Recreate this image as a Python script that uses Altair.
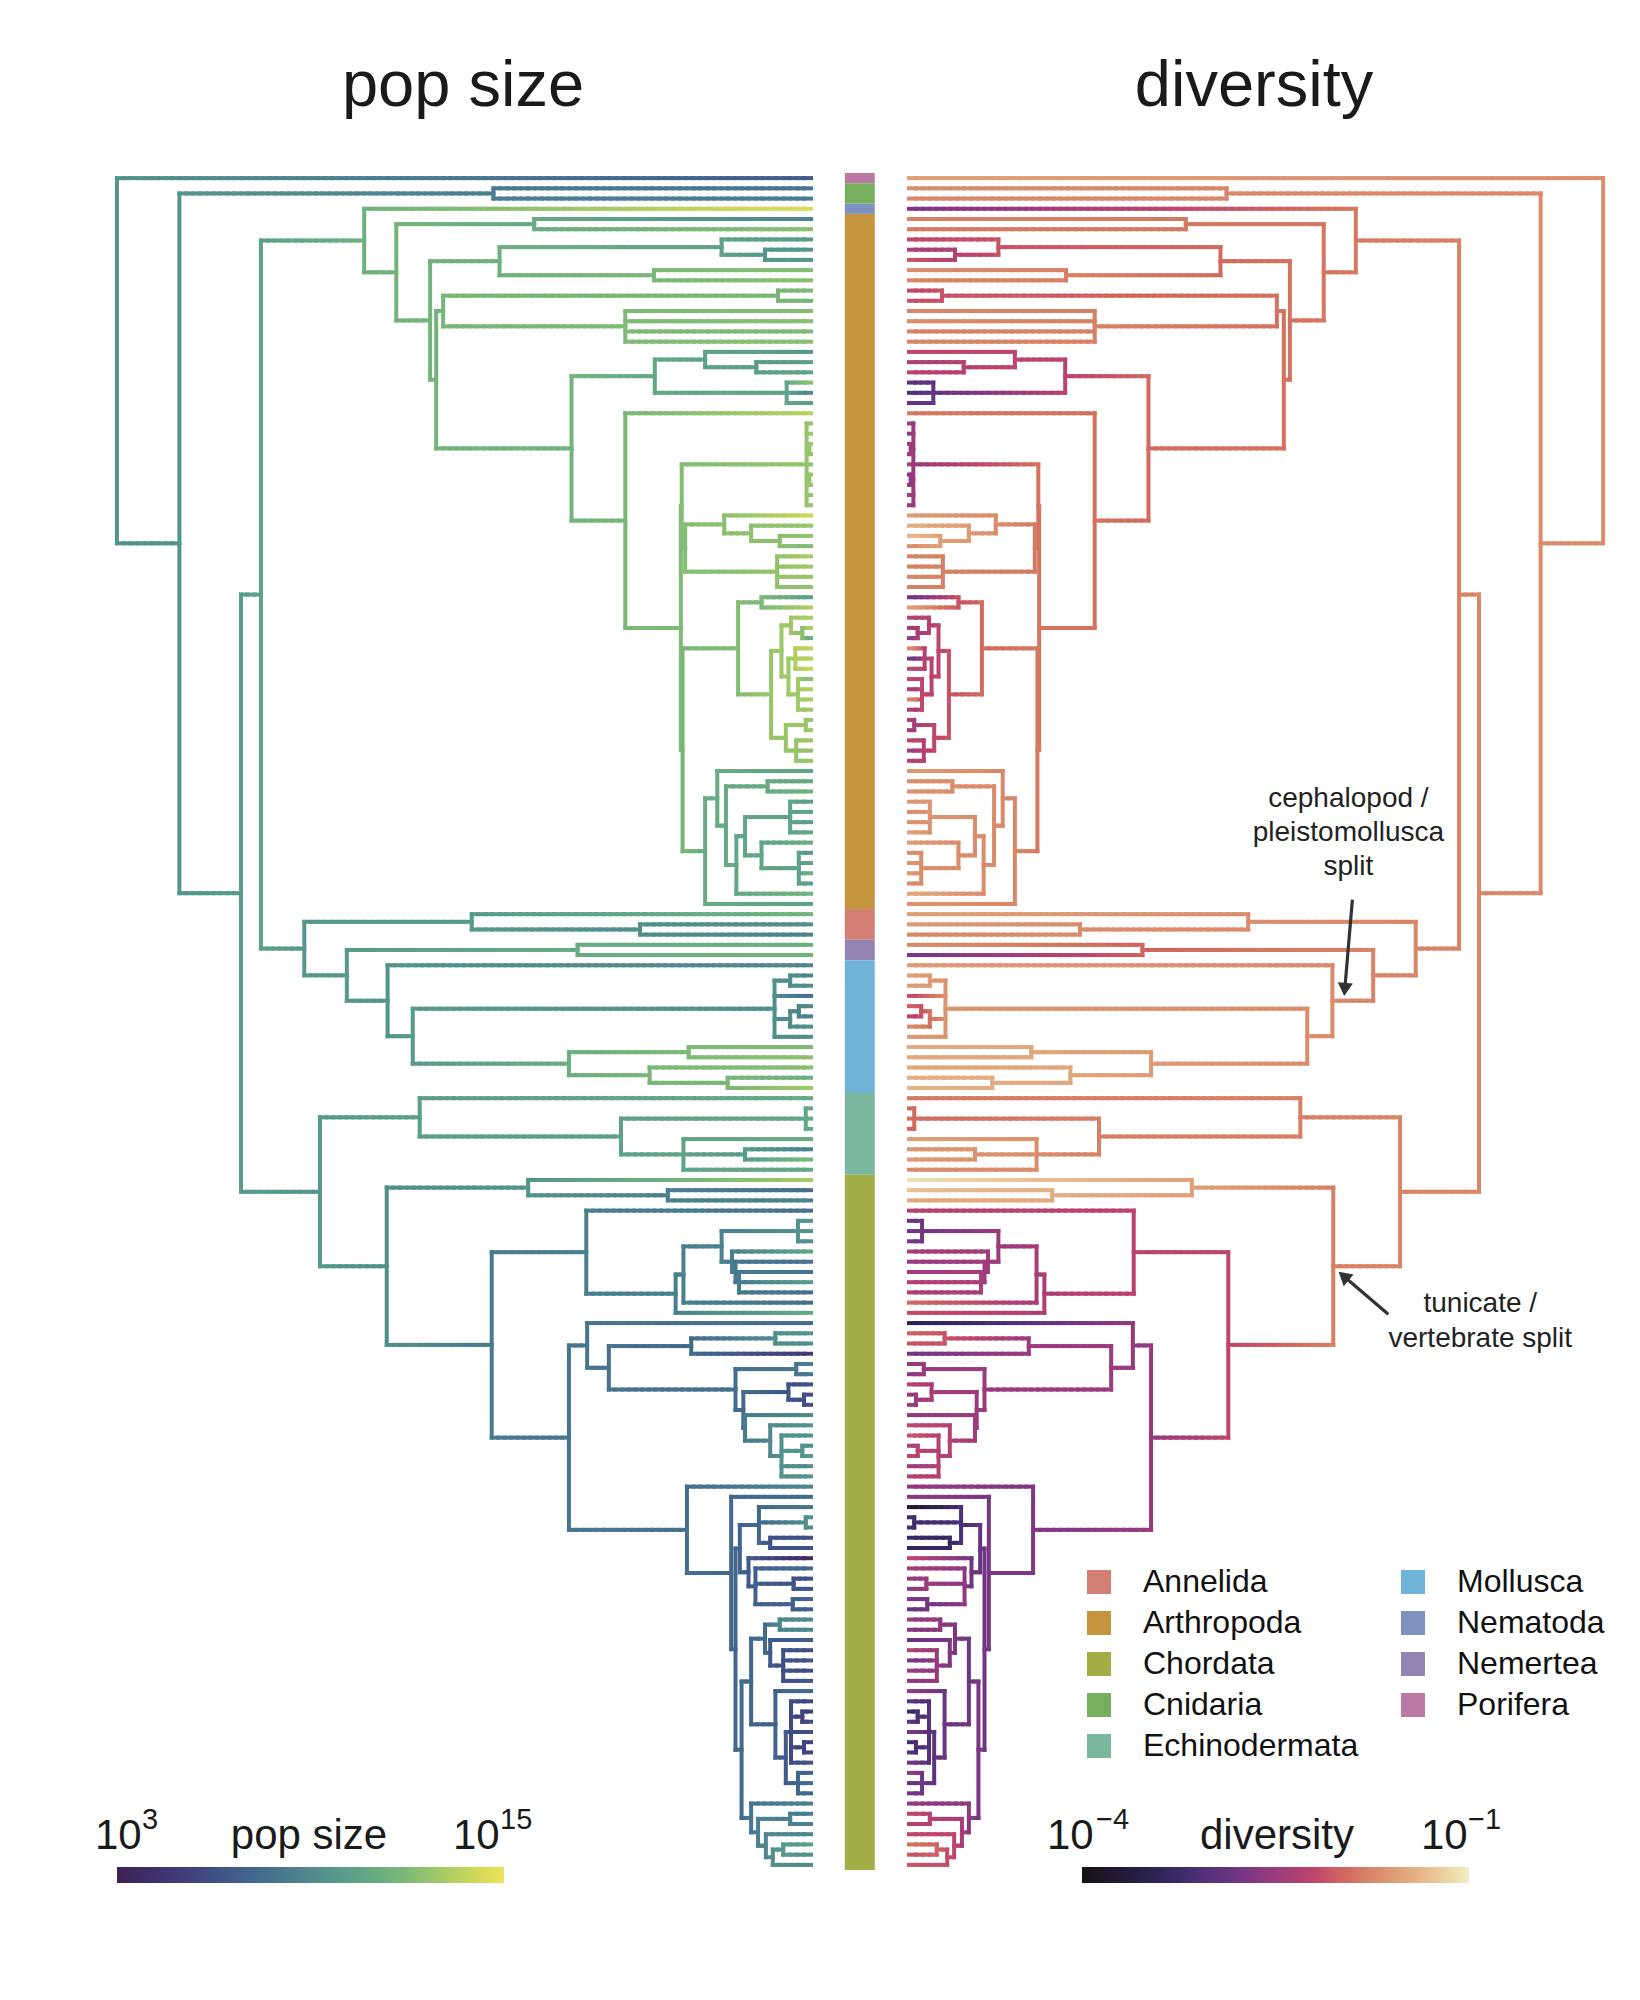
import math
import pandas as pd
import altair as alt

# ---------------------------------------------------------------------------
# Tree data.  Leaf  = "pop/div"  (log10 population size / log10 diversity)
#             Node  = "(children)age/pop/div"  (age in Myr before present)
# ---------------------------------------------------------------------------
PORIFERA = "6.6/-1.55"
CNIDARIA = "(8.0/-1.7 8.3/-1.75)366/8.4/-1.75"
NEMATODA = "14.5/-2.7"

ARTH_A1 = "(8.8/-1.8 12.4/-1.85)319/11.0/-1.85"
ARTH_A2A = "((10.0/-2.2 (9.6/-2.4 9.8/-2.1)53/9.8/-2.3)103/10.4/-2.1 (12.2/-1.7 12.4/-1.75)181/11.9/-1.8)359/11.4/-1.95"
ARTH_A2B1 = "((12.0/-2.2 11.7/-2.15)38/11.8/-2.1 (12.2/-1.75 12.3/-1.7 12.0/-1.8 12.4/-1.75)214/12.0/-1.8)424/11.7/-1.9"
ARTH_A2B2A = "((9.8/-2.2 (10.2/-2.35 10.5/-2.25)63/10.1/-2.3)122/10.4/-2.2 (12.6/-3.0 8.8/-3.1 10.0/-2.9)28/10.6/-2.9)180/10.8/-2.25"
ARTH_C1 = "(12.6/-2.5 12.9/-2.7 (13.1/-2.4 12.4/-2.6)2/12.8/-2.5 12.2/-2.3 (13.0/-2.8 12.7/-2.5)2/12.8/-2.6 12.5/-2.4 12.8/-2.45)5/12.7/-2.5"
ARTH_N687 = "((14.0/-1.6 (12.8/-1.45 (12.6/-1.35 12.0/-1.7)36/12.4/-1.55)69/12.5/-1.6)100/12.4/-1.7 (13.2/-1.75 13.0/-1.8 12.8/-1.75 12.6/-1.8)39/12.6/-1.8)145/12.2/-1.85"
ARTH_N740 = ("((10.2/-2.85 13.4/-1.55)57/11.9/-2.1 (((13.3/-2.3 (13.6/-2.5 10.8/-2.6)10/12.4/-2.4)23/12.9/-2.3 "
             "((13.8/-1.65 13.5/-2.9 13.9/-2.2)18/13.4/-2.3 (12.2/-2.2 13.6/-2.4 13.2/-1.7 12.9/-2.5)15/13.0/-2.2)26/13.0/-2.25)34/12.9/-2.2 "
             "((12.6/-2.3 12.9/-2.6)6/12.8/-2.4 (13.0/-2.2 12.5/-2.5 12.8/-2.3)17/12.7/-2.3)29/12.8/-2.2)46/12.8/-2.1)84/12.2/-1.95")
ARTH_N707 = ("((10.4/-1.6 ((10.8/-1.7 11.4/-1.65)50/11.0/-1.7 (((10.2/-1.6 10.6/-1.7 10.0/-1.65 10.8/-1.55)24/10.4/-1.65 "
             "(11.0/-1.6 (9.6/-1.7 10.4/-1.65 11.6/-1.6 10.2/-1.75)14/10.3/-1.7)57/10.6/-1.7)76/10.7/-1.7 11.4/-1.5)86/10.8/-1.7)98/10.9/-1.72)108/11.0/-1.74 "
             "10.3/-1.65)122/11.1/-1.75")
ARTH_A2B2B = f"(13.6/-1.85 (({ARTH_C1} {ARTH_N687})149/12.2/-1.9 ({ARTH_N740} {ARTH_N707})148/11.8/-1.85)150/12.0/-1.88)214/11.8/-1.9"
ARTH_A2B2 = f"({ARTH_A2B2A} {ARTH_A2B2B})276/11.6/-1.95"
ARTH_A2B = f"({ARTH_A2B1} {ARTH_A2B2})432/11.6/-1.9"
ARTH_A2 = f"({ARTH_A2A} {ARTH_A2B})439/11.6/-1.9"
ARTHROPODA = f"({ARTH_A1} {ARTH_A2})478/11.6/-1.88"

ANNELIDA = "(11.5/-1.55 (9.3/-1.6 8.6/-1.75)197/9.3/-1.7)391/9.9/-1.7"
NEMERTEA = "(11.3/-1.7 11.6/-2.8)269/11.0/-2.0"
MOLLUSCA = ("(8.8/-1.6 (((8.8/-1.55 9.4/-1.6)24/9.2/-1.6 7.5/-2.2 ((9.0/-2.0 8.6/-2.3)14/8.8/-2.1 9.5/-1.7)24/9.0/-1.9 9.3/-1.6)42/9.3/-1.65 "
            "((12.0/-1.45 12.5/-1.5)141/12.0/-1.5 (12.3/-1.5 (11.2/-1.45 13.0/-1.4)96/11.8/-1.45)186/11.8/-1.5)279/11.2/-1.6)459/9.9/-1.7)488/9.6/-1.72")
ECHINODERMATA = ("(10.9/-1.85 ((10.8/-2.0 11.0/-1.9 10.6/-2.05)6/10.8/-1.95 (11.0/-1.55 (8.6/-1.65 12.0/-1.6)76/10.0/-1.65 10.8/-1.7)147/10.5/-1.7)"
                 "219/10.3/-1.8)451/10.2/-1.8")

TUNICATA = "(13.2/-1.1 (7.5/-1.3 8.6/-1.5)165/8.5/-1.45)326/9.6/-1.55"
VERT_V1 = ("(7.8/-2.3 ((((9.8/-2.9 9.6/-2.8 9.4/-2.7)15/9.4/-2.8 (10.6/-2.4 (7.8/-2.5 (7.7/-2.45 10.0/-2.3 7.6/-2.35)83/8.2/-2.4)87/8.1/-2.45)91/8.4/-2.45)"
           "103/8.6/-2.5 7.7/-1.95)147/8.5/-2.4 10.8/-2.15)156/8.5/-2.35)259/8.5/-2.25")
VERT_V2A = ("(7.5/-3.5 (((9.6/-2.0 9.2/-2.1)41/9.3/-2.1 4.8/-2.8)138/7.4/-2.5 ((8.4/-2.5 8.0/-2.6)17/8.1/-2.5 ((6.0/-2.3 (5.8/-2.6 6.2/-2.4)8/6.0/-2.5)26/6.3/-2.4 "
            "(9.0/-2.6 (9.6/-2.2 (9.5/-2.1 (9.3/-2.4 9.9/-2.2)10/9.5/-2.3 9.0/-2.5 9.7/-2.3)34/9.4/-2.3)47/9.0/-2.3)76/8.3/-2.45)78/7.4/-2.5)87/7.6/-2.5)"
            "233/7.8/-2.5)258/7.9/-2.55")
V2B_761 = "(8.0/-3.8 (9.4/-3.2 9.2/-3.1)6/9.3/-3.2 (6.0/-3.3 6.2/-3.4)47/6.2/-3.3)60/7.2/-3.1"
V2B_750 = "(3.6/-2.2 (7.4/-2.4 (6.0/-2.5 6.2/-2.6)20/6.1/-2.5 (7.0/-2.7 6.8/-2.9)21/6.9/-2.8)64/6.9/-2.6)72/6.6/-2.8"
V2B_767 = "((9.0/-2.5 8.8/-2.7)36/8.8/-2.6 (6.6/-2.9 (6.0/-2.3 6.2/-2.8 5.8/-2.5 6.4/-2.6)32/6.1/-2.55)47/6.5/-2.7)53/7.4/-2.7"
V2B_777 = ("(7.4/-2.6 ((5.5/-3.0 (5.0/-3.3 5.8/-2.9)10/5.4/-3.1 6.0/-2.7 (5.2/-3.2 5.6/-3.0)8/5.4/-3.1 6.2/-2.8)23/5.8/-3.0 "
           "(7.0/-2.6 7.5/-2.9 7.2/-2.8)15/7.2/-2.8)29/6.6/-2.95)41/7.0/-2.85")
V2B_753 = "(8.6/-2.55 ((8.2/-2.2 8.8/-2.35)24/8.5/-2.3 (8.8/-2.2 ((10.2/-1.9 9.4/-2.1)32/9.8/-2.0 9.0/-2.1)44/9.2/-2.15)52/8.9/-2.2)61/8.5/-2.4)69/7.9/-2.6"
VERT_V2B = (f"(9.0/-2.55 (7.5/-2.6 (({V2B_761} {V2B_750})82/7.0/-2.9 (({V2B_767} {V2B_777})69/7.2/-2.8 {V2B_753})80/7.4/-2.75)"
            "87/7.2/-2.8)92/7.3/-2.75)143/7.6/-2.7")
VERTEBRATA = f"({VERT_V1} ({VERT_V2A} {VERT_V2B})279/7.9/-2.55)368/8.3/-2.2"
CHORDATA = f"({TUNICATA} {VERTEBRATA})489/9.3/-1.8"

BACKBONE = ("(@Porifera (@Cnidaria (((@Nematoda @Arthropoda)515/11.4/-1.85 (@Annelida (@Nemertea @Mollusca)535/9.9/-1.78)584/9.8/-1.76)"
            "634/10.3/-1.78 (@Echinodermata @Chordata)566/9.8/-1.76)657/10.0/-1.74)728/9.6/-1.72)800/9.5/-1.7")

PHYLA = ["Porifera", "Cnidaria", "Nematoda", "Arthropoda", "Annelida",
         "Nemertea", "Mollusca", "Echinodermata", "Chordata"]
PHYLUM_TREES = [PORIFERA, CNIDARIA, NEMATODA, ARTHROPODA, ANNELIDA,
                NEMERTEA, MOLLUSCA, ECHINODERMATA, CHORDATA]
LEGEND_ORDER = ["Annelida", "Arthropoda", "Chordata", "Cnidaria", "Echinodermata",
                "Mollusca", "Nematoda", "Nemertea", "Porifera"]
PHYLUM_COLORS = {"Annelida": "#d37e72", "Arthropoda": "#c4953c", "Chordata": "#a2ae45",
                 "Cnidaria": "#76af5e", "Echinodermata": "#7bb79f", "Mollusca": "#6fb3d9",
                 "Nematoda": "#7e92bf", "Nemertea": "#9484b3", "Porifera": "#ba7aa5"}

POP_LIMITS = [3, 15]      # log10 population size
DIV_LIMITS = [-4, -1]     # log10 diversity
POP_COLORS = ["#3d2254", "#3f2f6d", "#404380", "#425b8b", "#48728e", "#51898c",
              "#5c9f88", "#6fb17e", "#92c26d", "#c3d45a", "#f0e258"]
DIV_COLORS = ["#151215", "#201a37", "#2f245a", "#4b2f78", "#713683", "#9a3b7d",
              "#be466c", "#d3735f", "#dd9a74", "#e9bf8f", "#f2eec5"]

FONT = "Liberation Sans"


# ---------------------------------------------------------------------------
def parse(s, tag=None, refs=None):
    pos = 0
    n = len(s)

    def skip():
        nonlocal pos
        while pos < n and s[pos] == " ":
            pos += 1

    def label():
        nonlocal pos
        start = pos
        while pos < n and s[pos] not in " ()":
            pos += 1
        return s[start:pos]

    def node():
        nonlocal pos
        skip()
        if s[pos] == "(":
            pos += 1
            kids = []
            while True:
                skip()
                if s[pos] == ")":
                    pos += 1
                    break
                kids.append(node())
            age, p, d = (float(t) for t in label().split("/"))
            return {"kids": kids, "age": age, "pop": p, "div": d}
        lab = label()
        if lab.startswith("@"):
            return refs[lab[1:]]
        p, d = (float(t) for t in lab.split("/"))
        return {"kids": [], "age": 0.0, "pop": p, "div": d, "phylum": tag}

    return node()


refs = {name: parse(txt, tag=name) for name, txt in zip(PHYLA, PHYLUM_TREES)}
root = parse(BACKBONE, refs=refs)

leaves = []


def place(node):
    if not node["kids"]:
        node["y"] = float(len(leaves))
        leaves.append(node)
        return
    for k in node["kids"]:
        place(k)
    node["y"] = (node["kids"][0]["y"] + node["kids"][-1]["y"]) / 2


place(root)
N = len(leaves)

GAP = 56.5     # distance between tips and the centre line (age units)
STEP = 8.0     # branch subdivision for the colour gradient
hseg, vseg = [], []


def walk(node):
    if not node["kids"]:
        return
    vseg.append({"a": node["age"], "y": node["kids"][0]["y"], "y2": node["kids"][-1]["y"],
                 "pop": node["pop"], "div": node["div"]})
    for k in node["kids"]:
        length = node["age"] - k["age"]
        m = max(1, int(math.ceil(length / STEP)))
        for i in range(m):
            f = (i + 0.5) / m
            hseg.append({"a": node["age"] - length * i / m,
                         "a2": node["age"] - length * (i + 1) / m,
                         "y": k["y"],
                         "pop": node["pop"] + (k["pop"] - node["pop"]) * f,
                         "div": node["div"] + (k["div"] - node["div"]) * f})
        walk(k)


walk(root)
h = pd.DataFrame(hseg)
v = pd.DataFrame(vseg)
left_h = pd.DataFrame({"x": -(h["a"] + GAP), "x2": -(h["a2"] + GAP), "y": h["y"], "pop": h["pop"]})
right_h = pd.DataFrame({"x": h["a"] + GAP, "x2": h["a2"] + GAP, "y": h["y"], "div": h["div"]})
left_v = pd.DataFrame({"x": -(v["a"] + GAP), "y": v["y"], "y2": v["y2"], "pop": v["pop"]})
right_v = pd.DataFrame({"x": v["a"] + GAP, "y": v["y"], "y2": v["y2"], "div": v["div"]})

STRIP = (-17.5, 17.0)
strip_rows = []
for name in PHYLA:
    idx = [l["y"] for l in leaves if l["phylum"] == name]
    strip_rows.append({"phylum": name, "x": STRIP[0], "x2": STRIP[1],
                       "y": min(idx) - 0.5, "y2": max(idx) + 0.5})
strip = pd.DataFrame(strip_rows)

# ---------------------------------------------------------------------------
W, H = 1520, 1697
U = 876.0
PXU = W / (2 * U)
PXY = H / N
xs = alt.Scale(domain=[-U, U], nice=False, zero=False)
ys = alt.Scale(domain=[-0.5, N - 0.5], reverse=True, nice=False, zero=False)


def stops(lim):
    return [lim[0] + (lim[1] - lim[0]) * i / 10 for i in range(11)]


pop_scale = alt.Scale(domain=stops(POP_LIMITS), range=POP_COLORS)
div_scale = alt.Scale(domain=stops(DIV_LIMITS), range=DIV_COLORS)


def grad_legend(lx):
    return alt.Legend(orient="none", legendX=lx, legendY=1694, direction="horizontal",
                      gradientLength=387, gradientThickness=16, gradientStrokeWidth=0,
                      title=None, labelOpacity=0, labelFontSize=8, padding=0)


X = alt.X("x:Q", scale=xs, axis=None)
Y = alt.Y("y:Q", scale=ys, axis=None)

lh = alt.Chart(left_h).mark_rule(strokeWidth=4, strokeCap="square").encode(
    x=X, x2="x2", y=Y, color=alt.Color("pop:Q", scale=pop_scale, legend=grad_legend(17)))
rh = alt.Chart(right_h).mark_rule(strokeWidth=4, strokeCap="square").encode(
    x=X, x2="x2", y=Y, color=alt.Color("div:Q", scale=div_scale, legend=grad_legend(982)))
lv = alt.Chart(left_v).mark_rule(strokeWidth=4, strokeCap="square").encode(
    x=X, y=Y, y2="y2", color=alt.Color("pop:Q", scale=pop_scale, legend=None))
rv = alt.Chart(right_v).mark_rule(strokeWidth=4, strokeCap="square").encode(
    x=X, y=Y, y2="y2", color=alt.Color("div:Q", scale=div_scale, legend=None))

strip_chart = alt.Chart(strip).mark_rect().encode(
    x=X, x2="x2", y=Y, y2="y2",
    color=alt.Color("phylum:N",
                    scale=alt.Scale(domain=LEGEND_ORDER, range=[PHYLUM_COLORS[p] for p in LEGEND_ORDER]),
                    legend=alt.Legend(orient="none", legendX=983, legendY=1393, columns=2,
                                      symbolType="square", symbolSize=576, symbolStrokeWidth=0,
                                      symbolOpacity=1, labelFontSize=32, labelFont=FONT,
                                      labelColor="#111111", labelOffset=28, rowPadding=9,
                                      columnPadding=38, title=None, padding=0, labelLimit=400)))


def text_layer(txt, px, py, size, align="center", color="#1a1a1a", lh=None):
    kw = dict(font=FONT, fontSize=size, align=align, baseline="alphabetic", color=color)
    if lh:
        kw.update(lineBreak="\n", lineHeight=lh)
    return alt.Chart(pd.DataFrame({"t": [txt]})).mark_text(**kw).encode(
        text="t:N", x=alt.value(px), y=alt.value(py))


def to_px(u, yi):
    return (u + U) * PXU, (yi + 0.5) * PXY


def arrow(tip_u, tip_y, dx, dy):
    tail_u, tail_y = tip_u + dx / PXU, tip_y + dy / PXY
    L = math.hypot(dx, dy)
    ux, uy = -dx / L, -dy / L
    end_u, end_y = tip_u - 10 * ux / PXU, tip_y - 10 * uy / PXY
    hc_u, hc_y = tip_u - 6.6 * ux / PXU, tip_y - 6.6 * uy / PXY
    ang = math.degrees(math.atan2(ux, -uy)) % 360
    line = alt.Chart(pd.DataFrame({"x": [tail_u], "x2": [end_u], "y": [tail_y], "y2": [end_y]})).mark_rule(
        strokeWidth=3.2, color="#333333").encode(x=X, x2="x2", y=Y, y2="y2")
    head = alt.Chart(pd.DataFrame({"x": [hc_u], "y": [hc_y]})).mark_point(
        shape="triangle", filled=True, size=230, color="#333333", opacity=1,
        strokeWidth=0, angle=ang).encode(x=X, y=Y)
    return [line, head], to_px(tail_u, tail_y)


mol = refs["Mollusca"]
mol_u = mol["age"] + GAP
arrow1, tail1 = arrow(mol_u + 12 / PXU, mol["y"] - 7 / PXY, 8, -94)
cho = refs["Chordata"]
cho_u = cho["age"] + GAP
arrow2, tail2 = arrow(cho_u + 7 / PXU, cho["y"] + 7 / PXY, 48, 41)

texts = [
    text_layer("pop size", 363, -67, 65),
    text_layer("diversity", 1154, -67, 65),
    text_layer("pop size", 209, 1676, 42),
    text_layer("10", -5, 1676, 42, align="left"),
    text_layer("3", 42, 1656, 29, align="left"),
    text_layer("10", 353, 1676, 42, align="left"),
    text_layer("15", 400, 1656, 29, align="left"),
    text_layer("diversity", 1177, 1676, 42),
    text_layer("10", 947, 1676, 42, align="left"),
    text_layer("\u22124", 996, 1656, 29, align="left"),
    text_layer("10", 1321, 1676, 42, align="left"),
    text_layer("\u22121", 1368, 1656, 29, align="left"),
    text_layer("cephalopod /\npleistomollusca\nsplit", tail1[0] - 4, tail1[1] - 93, 28,
               color="#222222", lh=34),
    text_layer("tunicate /\nvertebrate split", tail2[0] + 92, tail2[1] - 2, 28,
               color="#222222", lh=35),
]

chart = alt.layer(lh, rh, lv, rv, strip_chart, *arrow1, *arrow2, *texts).resolve_scale(
    color="independent"
).properties(
    width=W, height=H,
    padding={"left": 92, "top": 165, "right": 4, "bottom": 60},
    autosize=alt.AutoSizeParams(type="none"),
).configure(font=FONT).configure_view(strokeWidth=0, stroke=None)

chart.save("out.html", embed_options={"renderer": "svg", "actions": False})
